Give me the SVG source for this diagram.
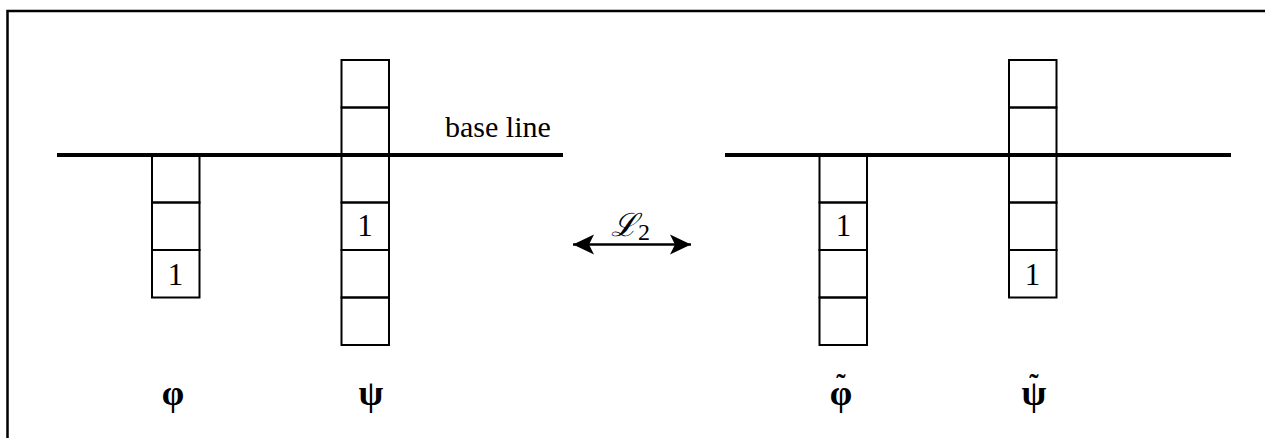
<svg xmlns="http://www.w3.org/2000/svg" width="1265" height="438" viewBox="0 0 1265 438">
<style>
  .box { fill: none; stroke: #000; stroke-width: 2; }
  .base { stroke: #000; stroke-width: 4; }
  .frame { fill: none; stroke: #000; stroke-width: 2.5; }
  .t { font-family: "Liberation Serif", "Times New Roman", serif; fill: #000; }
  .one { font-size: 31px; text-anchor: middle; }
  .greek { font-size: 36px; font-weight: bold; text-anchor: middle; }
  .tilde { font-size: 28px; }
  .conn { stroke: #000; stroke-width: 2.4; fill: none; }
</style>
<defs>
  <marker id="ah" viewBox="0 -11 22 22" refX="21" refY="0" markerWidth="22" markerHeight="22" markerUnits="userSpaceOnUse" orient="auto-start-reverse">
    <path d="M0,-10 L21,0 L0,10 L5,0 Z" fill="#000"/>
  </marker>
</defs>
<rect width="1265" height="438" fill="#fff"/>
<path class="frame" d="M7.5,438 V11 H1265"/>

<g id="baseline-left">
  <line class="base" x1="57" y1="155" x2="563" y2="155"/>
  <text class="t" x="445" y="137" font-size="30">base line</text>
</g>
<g id="baseline-right">
  <line class="base" x1="725" y1="155" x2="1231" y2="155"/>
</g>

<g id="phi">
  <rect class="box" x="152" y="155" width="47.5" height="47.5"/>
  <rect class="box" x="152" y="202.5" width="47.5" height="47.5"/>
  <rect class="box" x="152" y="250" width="47.5" height="47.5"/>
  <text class="t one" x="175.5" y="284.5">1</text>
  <text class="t greek" x="173" y="405">φ</text>
</g>

<g id="psi">
  <rect class="box" x="341.5" y="60" width="47.5" height="47.5"/>
  <rect class="box" x="341.5" y="107.5" width="47.5" height="47.5"/>
  <rect class="box" x="341.5" y="155" width="47.5" height="47.5"/>
  <rect class="box" x="341.5" y="202.5" width="47.5" height="47.5"/>
  <rect class="box" x="341.5" y="250" width="47.5" height="47.5"/>
  <rect class="box" x="341.5" y="297.5" width="47.5" height="47.5"/>
  <text class="t one" x="365" y="236">1</text>
  <text class="t greek" x="371" y="405">ψ</text>
</g>

<g id="phi-tilde">
  <rect class="box" x="819.5" y="155" width="47.5" height="47.5"/>
  <rect class="box" x="819.5" y="202.5" width="47.5" height="47.5"/>
  <rect class="box" x="819.5" y="250" width="47.5" height="47.5"/>
  <rect class="box" x="819.5" y="297.5" width="47.5" height="47.5"/>
  <text class="t one" x="843.5" y="236">1</text>
  <text class="t greek" x="841" y="405">φ<tspan class="tilde" x="841" y="393">˜</tspan></text>
</g>

<g id="psi-tilde">
  <rect class="box" x="1009" y="60" width="47.5" height="47.5"/>
  <rect class="box" x="1009" y="107.5" width="47.5" height="47.5"/>
  <rect class="box" x="1009" y="155" width="47.5" height="47.5"/>
  <rect class="box" x="1009" y="202.5" width="47.5" height="47.5"/>
  <rect class="box" x="1009" y="250" width="47.5" height="47.5"/>
  <text class="t one" x="1032.5" y="284.5">1</text>
  <text class="t greek" x="1034" y="405">ψ<tspan class="tilde" x="1034" y="393">˜</tspan></text>
</g>

<g id="connectors">
  <line class="conn" x1="573" y1="244.5" x2="691" y2="244.5" marker-start="url(#ah)" marker-end="url(#ah)"/>
  <text class="t" x="611" y="236" font-size="32" font-style="italic">ℒ</text>
  <text class="t" x="638" y="240" font-size="24">2</text>
</g>
</svg>
